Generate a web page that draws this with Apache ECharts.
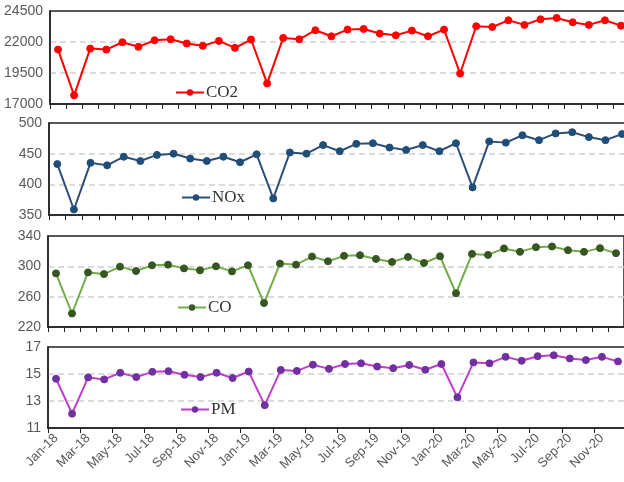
<!DOCTYPE html>
<html><head><meta charset="utf-8">
<script src="https://cdn.jsdelivr.net/npm/echarts@6/dist/echarts.min.js"></script>
<style>html,body{margin:0;padding:0;background:#fff}#c{width:624px;height:482px}</style>
</head><body><div id="c"></div>
<script>
const months = ['Jan-18','Feb-18','Mar-18','Apr-18','May-18','Jun-18','Jul-18','Aug-18','Sep-18','Oct-18','Nov-18','Dec-18',
'Jan-19','Feb-19','Mar-19','Apr-19','May-19','Jun-19','Jul-19','Aug-19','Sep-19','Oct-19','Nov-19','Dec-19',
'Jan-20','Feb-20','Mar-20','Apr-20','May-20','Jun-20','Jul-20','Aug-20','Sep-20','Oct-20','Nov-20','Dec-20'];
const co2 = [21390,17700,21470,21390,21980,21610,22140,22220,21880,21690,22090,21530,
22200,18660,22330,22220,22950,22460,23000,23050,22680,22540,22920,22460,
23000,19460,23270,23210,23750,23380,23830,23940,23590,23380,23750,23320];
const nox = [433,359,435,431,445,438,448,450,442,438,445,436,
449,377,452,450,464,454,466,467,460,456,464,454,
467,395,470,468,480,472,483,485,477,472,482,476];
const co = [290.7,237.8,292,289.8,299.6,293.8,301.3,302.2,297.3,294.7,300,293.3,
301.3,251.6,303.6,302.2,312.9,306.7,313.8,314.7,309.8,305.8,312.4,304.4,
313.3,264.4,316.4,315.1,323.6,319.1,325.3,326.2,321.3,319.1,324,317.3];
const pm = [14.65,12.06,14.75,14.6,15.09,14.77,15.16,15.21,14.94,14.77,15.09,14.7,
15.18,12.69,15.3,15.23,15.69,15.38,15.74,15.79,15.55,15.43,15.67,15.31,
15.74,13.27,15.86,15.79,16.27,15.98,16.32,16.39,16.15,16.03,16.27,15.93];

const panels = [
  {name:'CO2', data:co2, min:17000, max:24500, interval:2500, line:'#FF0000', mark:'#FF0000',
   grid:{left:50, top:11, width:579, height:93}, legend:{left:170, top:79}},
  {name:'NOx', data:nox, min:350, max:500, interval:50, line:'#2C4E78', mark:'#1F4E79',
   grid:{left:49, top:123, width:598, height:92}, legend:{left:176, top:184}},
  {name:'CO', data:co, min:220, max:340, interval:40, line:'#70AD47', mark:'#375623',
   grid:{left:48, top:236, width:576, height:91}, legend:{left:172, top:294}},
  {name:'PM', data:pm, min:11, max:17, interval:2, line:'#C03CCB', mark:'#7030A0',
   grid:{left:48, top:347, width:578, height:81}, legend:{left:175, top:396}}
];

const labelFont = {fontFamily:'"Liberation Sans Narrow", "Liberation Sans", Arial', fontSize:13, color:'#595959'};

const option = {
  animation:false,
  backgroundColor:'#fff',
  grid: panels.map(p => Object.assign({show:true, borderColor:'#222', borderWidth:1.5, backgroundColor:'transparent', containLabel:false, outerBoundsMode:'none'}, p.grid)),
  legend: panels.map((p,i) => ({
    data:[p.name], left:p.legend.left, top:p.legend.top, itemWidth:28, itemHeight:8, itemGap:2,
    textStyle:{fontFamily:'"Liberation Serif","Times New Roman",serif', fontSize:17, color:'#333', padding:[0,0,0,-3]}
  })),
  xAxis: panels.map((p,i) => ({
    type:'category', gridIndex:i, data:months, boundaryGap:true,
    axisLine:{show:true, lineStyle:{color:'#222', width:1.5}},
    axisTick:{show:true, inside:false, length:5, interval: i===3 ? 1 : 0, lineStyle:{color:'#222', width:1}},
    axisLabel: i===3 ? Object.assign({show:true, rotate:45, interval:1, margin:8}, labelFont) : {show:false},
    splitLine:{show:false}
  })),
  yAxis: panels.map((p,i) => ({
    type:'value', gridIndex:i, min:p.min, max:p.max, interval:p.interval,
    axisLine:{show:true, lineStyle:{color:'#222', width:1.5}},
    axisTick:{show:false},
    axisLabel: Object.assign({margin:7, formatter: v => String(v)}, labelFont, {fontSize:14}),
    splitLine:{show:true, showMinLine:false, showMaxLine:false, lineStyle:{color:'#D0D0D0', type:[6,4], width:1.5}}
  })),
  series: panels.map((p,i) => ({
    name:p.name, type:'line', xAxisIndex:i, yAxisIndex:i, data:p.data,
    symbol:'circle', symbolSize:7,
    lineStyle:{color:p.line, width:2},
    itemStyle:{color:p.mark, borderColor:p.mark},
    z:3
  }))
};
const chart = echarts.init(document.getElementById('c'), null, {renderer:'canvas'});
chart.setOption(option);
</script></body></html>
